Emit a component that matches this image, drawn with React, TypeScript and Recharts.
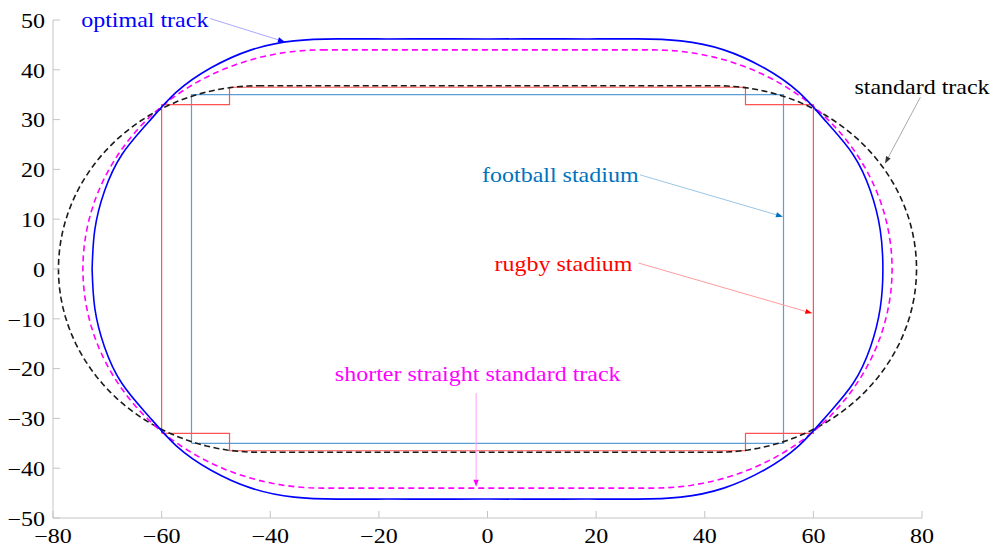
import { ComposedChart, Line, XAxis, YAxis, ReferenceLine, ReferenceDot } from 'recharts';

const FONT = '"Liberation Serif", "Times New Roman", serif';

const xTicks = [-80, -60, -40, -20, 0, 20, 40, 60, 80];
const yTicks = [-50, -40, -30, -20, -10, 0, 10, 20, 30, 40, 50];

// optimal track: top-left quarter, from y = 0 round to the top straight
const optimalQuarterX = [-72.8, -72.3, -70.5, -67.3, -62.5, -57.3, -50.9, -43.5, -35.6, -27.5, -20.6, -13.7, -6.9];
const optimalQuarterY = [0, 7.9, 15.7, 23.0, 29.4, 35.5, 40.4, 44.0, 45.8, 46.2, 46.2, 46.2, 46.2];

// 400 m tracks: half straight length and bend radius
const standardTrack = { halfStraight: 42.2, radius: 36.8 };
const shortStraightTrack = { halfStraight: 30.5, radius: 44 };

const footballX = [-54.5, -54.5, 54.5, 54.5, -54.5];
const footballY = [-35, 35, 35, -35, -35];

const rugbyX = [-60, -60, -47.5, -47.5, 47.5, 47.5, 60, 60, 47.5, 47.5, -47.5, -47.5, -60];
const rugbyY = [-33, 33, 33, 36.5, 36.5, 33, 33, -33, -33, -36.5, -36.5, -33, -33];

// annotations
const noteLabels = ['optimal track', 'standard track', 'football stadium', 'rugby stadium', 'shorter straight standard track'];
const noteTextX = [-63.1, 80.0, 13.4, 14.0, -1.8];
const noteTextY = [50.0, 36.6, 18.9, 1.0, -21.2];
const noteFromX = [-51.1, 79.7, 28.1, 27.8, -2.1];
const noteFromY = [50.3, 34.5, 18.9, 1.2, -24.9];
const noteToX = [-37.3, 73.2, 54.4, 59.8, -2.1];
const noteToY = [45.6, 21.2, 10.5, -8.9, -43.7];
const noteTextColor = ['#0000ff', '#000000', '#0072bd', '#ff0000', '#ff00ff'];
const noteLineColor = ['#a8a8ff', '#aaaaaa', '#9cc6e6', '#ff9c9c', '#ff9cff'];
const noteHeadColor = ['#0000ff', '#333333', '#0072bd', '#ff0000', '#ff00ff'];

type Pt = { x: number; y: number };

const zipPts = (xs: number[], ys: number[]): Pt[] => xs.map((x, i) => ({ x, y: ys[i] }));

function stadium(halfStraight: number, r: number): Pt[] {
    const pts: Pt[] = [];
    const n = 60;
    pts.push({ x: -halfStraight, y: r });
    for (let i = 0; i <= n; i++) {
        const a = Math.PI / 2 - (Math.PI * i) / n;
        pts.push({ x: halfStraight + r * Math.cos(a), y: r * Math.sin(a) });
    }
    for (let i = 0; i <= n; i++) {
        const a = (3 * Math.PI) / 2 - (Math.PI * i) / n;
        pts.push({ x: -halfStraight + r * Math.cos(a), y: r * Math.sin(a) });
    }
    return pts;
}

// mirror the quarter into the full closed loop (no repeated neighbours)
function optimalTrack(): Pt[] {
    const q = zipPts(optimalQuarterX, optimalQuarterY);
    const topRight = [...q].reverse().map((p) => ({ x: -p.x, y: p.y }));
    const bottomRight = q.slice(1).map((p) => ({ x: -p.x, y: -p.y }));
    const bottomLeft = [...q].reverse().map((p) => ({ x: p.x, y: -p.y }));
    return [...q, ...topRight, ...bottomRight, ...bottomLeft];
}

const footballData = zipPts(footballX, footballY);
const rugbyData = zipPts(rugbyX, rugbyY);
const standardData = stadium(standardTrack.halfStraight, standardTrack.radius);
const shortData = stadium(shortStraightTrack.halfStraight, shortStraightTrack.radius);
const optimalData = optimalTrack();

const fmt = (v: number) => (v < 0 ? `\u2212${Math.abs(v)}` : `${v}`);

function SText({ x, y, fill, anchor = 'middle', children }: any) {
    return (
        <text
            transform={`translate(${x},${y}) scale(1.2,1)`}
            x={0}
            y={0}
            textAnchor={anchor}
            dominantBaseline="central"
            fontFamily={FONT}
            fontSize={20}
            fill={fill}
        >
            {children}
        </text>
    );
}

const AXIS = '#c4c4c4';

const XTick = ({ x, y, payload }: any) => (
    <g>
        <line x1={x} y1={y} x2={x} y2={y - 7} stroke={AXIS} />
        <SText x={x} y={y + 18} fill="#000">{fmt(payload.value)}</SText>
    </g>
);

const YTick = ({ x, y, payload }: any) => (
    <g>
        <line x1={x} y1={y} x2={x + 7} y2={y} stroke={AXIS} />
        <SText x={x - 8} y={y + 1} fill="#000" anchor="end">{fmt(payload.value)}</SText>
    </g>
);

const arrow = (lineColor: string, headColor: string) => (p: any) => {
    const { x1, y1, x2, y2 } = p;
    const a = Math.atan2(y2 - y1, x2 - x1);
    const len = 7;
    const w = 2.6;
    const bx = x2 - len * Math.cos(a);
    const by = y2 - len * Math.sin(a);
    const nx = -Math.sin(a) * w;
    const ny = Math.cos(a) * w;
    return (
        <g>
            <line x1={x1} y1={y1} x2={bx} y2={by} stroke={lineColor} strokeWidth={1} />
            <polygon points={`${x2},${y2} ${bx + nx},${by + ny} ${bx - nx},${by - ny}`} fill={headColor} />
        </g>
    );
};

export default function App() {
    return (
        <div style={{ position: 'absolute', left: 0, top: 0, background: '#fff' }}>
            <ComposedChart width={994} height={546} margin={{ top: 20, right: 72, bottom: 0, left: 0 }}>
                <XAxis
                    type="number"
                    dataKey="x"
                    domain={[-80, 80]}
                    ticks={xTicks}
                    interval={0}
                    allowDataOverflow
                    height={28}
                    axisLine={{ stroke: AXIS }}
                    tickLine={false}
                    tickSize={0}
                    tickMargin={0}
                    tick={XTick}
                />
                <YAxis
                    type="number"
                    domain={[-50, 50]}
                    ticks={yTicks}
                    interval={0}
                    allowDataOverflow
                    width={53}
                    axisLine={{ stroke: AXIS }}
                    tickLine={false}
                    tickSize={0}
                    tickMargin={0}
                    tick={YTick}
                />
                <Line data={footballData} dataKey="y" type="linear" stroke="#5a9fd6" strokeWidth={1.2} dot={false} activeDot={false} isAnimationActive={false} />
                <Line data={rugbyData} dataKey="y" type="linear" stroke="#ff5252" strokeWidth={1.2} dot={false} activeDot={false} isAnimationActive={false} />
                <Line data={standardData} dataKey="y" type="linear" stroke="#1a1a1a" strokeWidth={1.6} strokeDasharray="6 3.5" dot={false} activeDot={false} isAnimationActive={false} />
                <Line data={shortData} dataKey="y" type="linear" stroke="#ff00ff" strokeWidth={1.6} strokeDasharray="6 4" dot={false} activeDot={false} isAnimationActive={false} />
                <Line data={optimalData} dataKey="y" type="natural" stroke="#0000ff" strokeWidth={1.6} dot={false} activeDot={false} isAnimationActive={false} />
                {noteLabels.map((label, i) => (
                    <ReferenceLine
                        key={`arrow-${label}`}
                        segment={[
                            { x: noteFromX[i], y: noteFromY[i] },
                            { x: noteToX[i], y: noteToY[i] },
                        ]}
                        ifOverflow="visible"
                        shape={arrow(noteLineColor[i], noteHeadColor[i])}
                    />
                ))}
                {noteLabels.map((label, i) => (
                    <ReferenceDot
                        key={`text-${label}`}
                        x={noteTextX[i]}
                        y={noteTextY[i]}
                        r={0}
                        ifOverflow="visible"
                        shape={(p: any) => (
                            <SText x={p.cx} y={p.cy} fill={noteTextColor[i]}>{label}</SText>
                        )}
                    />
                ))}
            </ComposedChart>
        </div>
    );
}
